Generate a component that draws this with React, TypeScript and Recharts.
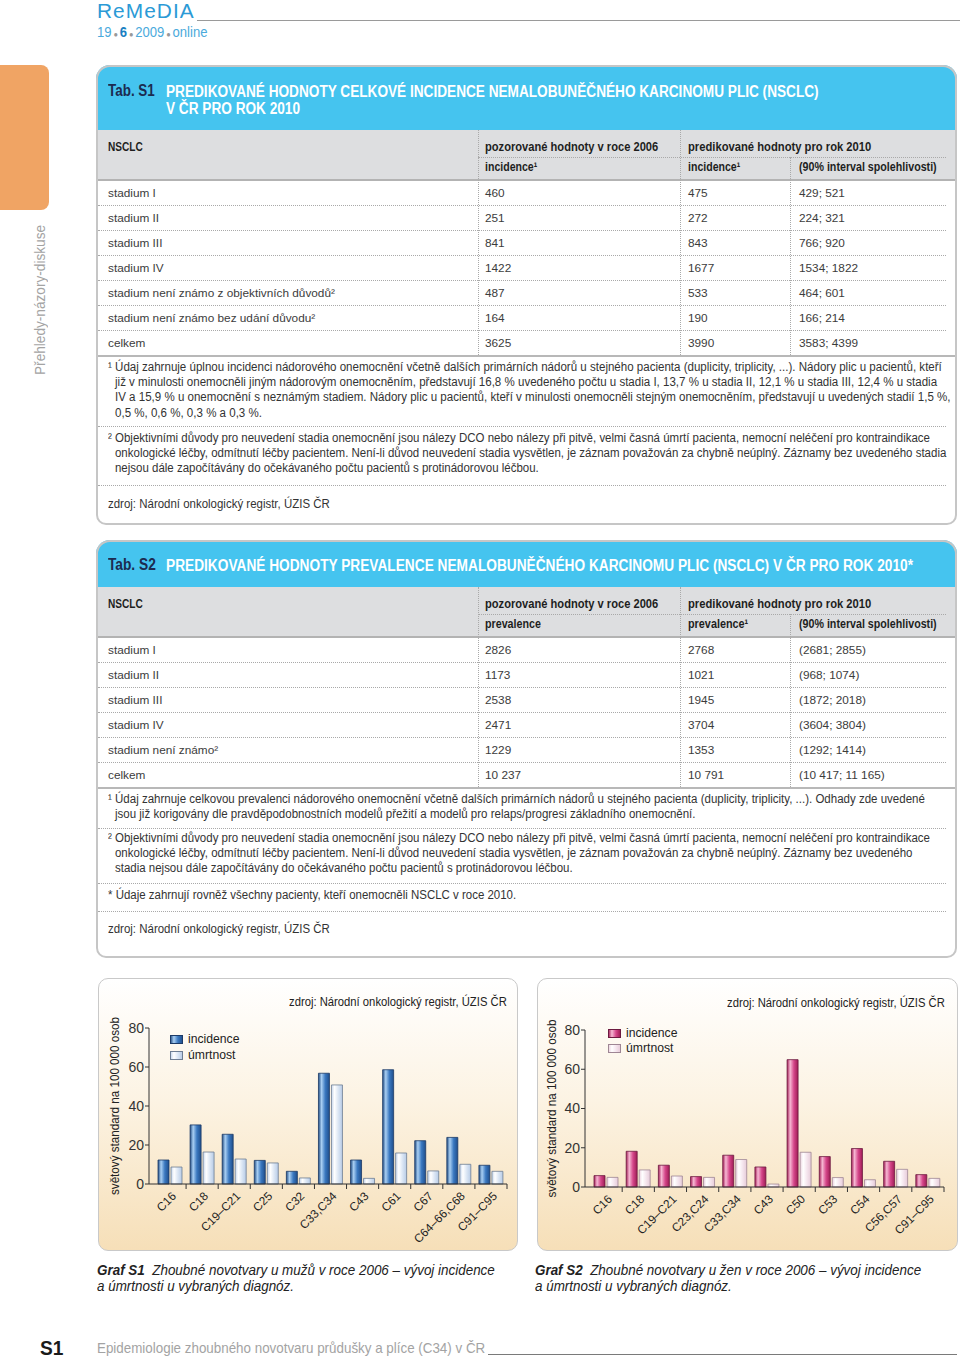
import React, { useLayoutEffect, useRef, useState } from 'react';
import { BarChart, Bar, XAxis, YAxis, Legend, Label } from 'recharts';

// Graf S1 – muži
const menCodes = ['C16', 'C18', 'C19–C21', 'C25', 'C32', 'C33,C34', 'C43', 'C61', 'C67', 'C64–66,C68', 'C91–C95'];
const menIncidence = [12.3, 30.3, 25.5, 12.1, 6.5, 56.8, 12.3, 58.6, 22.2, 23.9, 9.6];
const menMortality = [8.7, 16.4, 12.8, 10.8, 3.1, 50.8, 2.9, 15.9, 6.7, 10.1, 6.5];

// Graf S2 – ženy
const womenCodes = ['C16', 'C18', 'C19–C21', 'C23,C24', 'C33,C34', 'C43', 'C50', 'C53', 'C54', 'C56,C57', 'C91–C95'];
const womenIncidence = [5.8, 18.2, 11.1, 5.3, 16.2, 10.2, 64.9, 15.5, 19.6, 13.1, 6.3];
const womenMortality = [4.9, 8.7, 5.6, 4.9, 14.0, 1.5, 17.7, 4.8, 3.7, 9.0, 4.4];

const yTicks = [0, 20, 40, 60, 80];
const sourceText = 'zdroj: Národní onkologický registr, ÚZIS ČR';
const yLabelText = 'světový standard na 100 000 osob';

// Tab. S1
const s1Stages = ['stadium I', 'stadium II', 'stadium III', 'stadium IV', 'stadium není známo z objektivních důvodů²', 'stadium není známo bez udání důvodu²', 'celkem'];
const s1Observed = ['460', '251', '841', '1422', '487', '164', '3625'];
const s1Predicted = ['475', '272', '843', '1677', '533', '190', '3990'];
const s1Interval = ['429; 521', '224; 321', '766; 920', '1534; 1822', '464; 601', '166; 214', '3583; 4399'];
const s1Sub = ['incidence¹', 'incidence¹', '(90% interval spolehlivosti)'];

// Tab. S2
const s2Stages = ['stadium I', 'stadium II', 'stadium III', 'stadium IV', 'stadium není známo²', 'celkem'];
const s2Observed = ['2826', '1173', '2538', '2471', '1229', '10 237'];
const s2Predicted = ['2768', '1021', '1945', '3704', '1353', '10 791'];
const s2Interval = ['(2681; 2855)', '(968; 1074)', '(1872; 2018)', '(3604; 3804)', '(1292; 1414)', '(10 417; 11 165)'];
const s2Sub = ['prevalence', 'prevalence¹', '(90% interval spolehlivosti)'];

const s1Note1 = [
  '¹ Údaj zahrnuje úplnou incidenci nádorového onemocnění včetně dalších primárních nádorů u stejného pacienta (duplicity, triplicity, ...). Nádory plic u pacientů, kteří',
  'již v minulosti onemocněli jiným nádorovým onemocněním, představují 16,8 % uvedeného počtu u stadia I, 13,7 % u stadia II, 12,1 % u stadia III, 12,4 % u stadia',
  'IV a 15,9 % u onemocnění s neznámým stadiem. Nádory plic u pacientů, kteří v minulosti onemocněli stejným onemocněním, představují u uvedených stadií 1,5 %,',
  '0,5 %, 0,6 %, 0,3 % a 0,3 %.',
];
const s1Note2 = [
  '² Objektivními důvody pro neuvedení stadia onemocnění jsou nálezy DCO nebo nálezy při pitvě, velmi časná úmrtí pacienta, nemocní neléčení pro kontraindikace',
  'onkologické léčby, odmítnutí léčby pacientem. Není-li důvod neuvedení stadia vysvětlen, je záznam považován za chybně neúplný. Záznamy bez uvedeného stadia',
  'nejsou dále započítávány do očekávaného počtu pacientů s protinádorovou léčbou.',
];
const s2Note1 = [
  '¹ Údaj zahrnuje celkovou prevalenci nádorového onemocnění včetně dalších primárních nádorů u stejného pacienta (duplicity, triplicity, ...). Odhady zde uvedené',
  'jsou již korigovány dle pravděpodobnostních modelů přežití a modelů pro relaps/progresi základního onemocnění.',
];
const s2Note2 = [
  '² Objektivními důvody pro neuvedení stadia onemocnění jsou nálezy DCO nebo nálezy při pitvě, velmi časná úmrtí pacienta, nemocní neléčení pro kontraindikace',
  'onkologické léčby, odmítnutí léčby pacientem. Není-li důvod neuvedení stadia vysvětlen, je záznam považován za chybně neúplný. Záznamy bez uvedeného',
  'stadia nejsou dále započítávány do očekávaného počtu pacientů s protinádorovou léčbou.',
];

const BLUE = '#45c4ef';
const GREY_HEAD = '#dddee0';
const TEXT = '#3c3c3c';
const DOT = '1px dotted #a9a9a9';

// squeezes a single line of text to a given pixel width
function Fit({ w, children, style }: any) {
  const ref = useRef<HTMLSpanElement>(null);
  const [k, setK] = useState(1);
  useLayoutEffect(() => {
    const n = ref.current ? ref.current.offsetWidth : 0;
    if (n > 0) setK(w / n);
  }, [w]);
  return (
    <span ref={ref} style={{ display: 'inline-block', whiteSpace: 'nowrap', transform: `scaleX(${k})`, transformOrigin: '0 50%', ...style }}>
      {children}
    </span>
  );
}

// multi-line paragraph, scale taken from its first (full) line
function Para({ x, y, lines, w, lh = 15.4, size = 12.5, indent = 7, color = '#333', style }: any) {
  const ref = useRef<HTMLSpanElement>(null);
  const [k, setK] = useState(1);
  useLayoutEffect(() => {
    const n = ref.current ? ref.current.offsetWidth : 0;
    if (n > 0) setK(w / n);
  }, [w]);
  return (
    <div style={{ position: 'absolute', left: x, top: y, fontSize: size, lineHeight: `${lh}px`, color, whiteSpace: 'nowrap', transform: `scaleX(${k})`, transformOrigin: '0 0', ...style }}>
      {lines.map((t: any, i: number) => (
        <div key={i} style={{ paddingLeft: i ? indent / k : 0 }}>
          {i === 0 ? <span ref={ref}>{t}</span> : t}
        </div>
      ))}
    </div>
  );
}

const Txt = ({ x, cy, children, style }: any) => (
  <div style={{ position: 'absolute', left: x, top: cy - 10, height: 20, lineHeight: '20px', whiteSpace: 'nowrap', ...style }}>{children}</div>
);

const HLine = ({ x, y, w, border = DOT }: any) => (
  <div style={{ position: 'absolute', left: x, top: y, width: w, height: 0, borderTop: border }} />
);
const VLine = ({ x, y, h }: any) => (
  <div style={{ position: 'absolute', left: x, top: y, width: 0, height: h, borderLeft: DOT }} />
);

const headStyle = { fontSize: 13, fontWeight: 700, color: '#1e1e1e' };

function StageTable({ top, sub, subW, stages, observed, predicted, interval }: any) {
  const rowsTop = top + 50;
  const end = rowsTop + stages.length * 25;
  const cols = [108, 485, 688, 799];
  return (
    <>
      <div style={{ position: 'absolute', left: 97, top, width: 859, height: 50, background: GREY_HEAD }} />
      <HLine x={97} y={rowsTop - 1} w={859} border="2px solid #b3b3b3" />
      <VLine x={478} y={top} h={end - top} />
      <VLine x={680} y={top} h={end - top} />
      <VLine x={790} y={top + 27} h={end - top - 27} />
      <HLine x={478} y={top + 27} w={468} />
      {stages.slice(1).map((_: string, i: number) => (
        <HLine key={i} x={98} y={rowsTop + 25 * (i + 1)} w={848} />
      ))}
      <HLine x={97} y={end} w={859} border="2px solid #b8b8b8" />
      <Txt x={cols[0]} cy={top + 17} style={headStyle}><Fit w={35}>NSCLC</Fit></Txt>
      <Txt x={cols[1]} cy={top + 17} style={headStyle}><Fit w={173}>pozorované hodnoty v roce 2006</Fit></Txt>
      <Txt x={cols[2]} cy={top + 17} style={headStyle}><Fit w={183}>predikované hodnoty pro rok 2010</Fit></Txt>
      {sub.map((s: string, i: number) => (
        <Txt key={s + i} x={cols[i + 1]} cy={top + 37} style={headStyle}><Fit w={subW[i]}>{s}</Fit></Txt>
      ))}
      {stages.map((s: string, i: number) => {
        const cy = rowsTop + 12.5 + 25 * i;
        const st = { fontSize: 11.8, color: TEXT };
        return (
          <React.Fragment key={s}>
            <Txt x={cols[0]} cy={cy} style={st}>{s}</Txt>
            <Txt x={cols[1]} cy={cy} style={st}>{observed[i]}</Txt>
            <Txt x={cols[2]} cy={cy} style={st}>{predicted[i]}</Txt>
            <Txt x={cols[3]} cy={cy} style={st}>{interval[i]}</Txt>
          </React.Fragment>
        );
      })}
    </>
  );
}

const CodeTick = ({ x, y, payload }: any) => {
  const half = payload && payload.offset ? payload.offset : 16;
  return (
    <g>
      <line x1={x + half} x2={x + half} y1={y} y2={y + 5} stroke="#333" />
      <text
        x={x + 4}
        y={y + 10}
        transform={`rotate(-45 ${x + 4} ${y + 10})`}
        textAnchor="end"
        dominantBaseline="central"
        fontSize={11.8}
        fill="#222"
        fontFamily="Liberation Sans, Arial, sans-serif"
      >
        {payload.value}
      </text>
    </g>
  );
};

function IncidenceChart({ codes, incidence, mortality, ids, stops, strokes, width, margin, yWidth, xHeight, legend, labelX }: any) {
  const data = codes.map((c: string, i: number) => ({ code: c, incidence: incidence[i], mortality: mortality[i] }));
  const renderLabel = (p: any) => {
    const vb = p.viewBox || {};
    const cy = (vb.y ?? margin.top) + (vb.height ?? 156) / 2;
    return (
      <text
        x={labelX}
        y={cy}
        transform={`rotate(-90 ${labelX} ${cy})`}
        textAnchor="middle"
        dominantBaseline="central"
        fontSize={12}
        fill="#222"
        textLength={178}
        lengthAdjust="spacingAndGlyphs"
      >
        {yLabelText}
      </text>
    );
  };
  const renderLegend = (props: any) => (
    <div style={{ fontSize: 12.2, color: '#222', fontFamily: 'Liberation Sans, Arial, sans-serif' }}>
      {(props.payload || []).map((e: any, i: number) => (
        <div key={e.value} style={{ display: 'flex', alignItems: 'center', height: legend.rowH, lineHeight: `${legend.rowH}px` }}>
          <svg width={13} height={9} style={{ marginRight: 5 }}>
            <rect x={0.5} y={0.5} width={12} height={8} fill={`url(#${ids[i]})`} stroke={strokes[i]} strokeWidth={1} />
          </svg>
          {e.value}
        </div>
      ))}
    </div>
  );
  return (
    <BarChart width={width} height={273} data={data} margin={margin} barSize={11} barGap={2}>
      <defs>
        {ids.map((id: string, i: number) => (
          <linearGradient key={id} id={id} x1="0" y1="0" x2="1" y2="0">
            {stops[i].map((c: string, j: number) => (
              <stop key={j} offset={`${[0, 28, 62, 100][j]}%`} stopColor={c} />
            ))}
          </linearGradient>
        ))}
      </defs>
      <XAxis
        dataKey="code"
        height={xHeight}
        interval={0}
        padding={{ left: 5, right: 0 }}
        tickSize={0}
        tickMargin={0}
        tickLine={false}
        axisLine={{ stroke: '#333' }}
        tick={<CodeTick />}
      />
      <YAxis
        width={yWidth}
        domain={[0, 80]}
        ticks={yTicks}
        tickSize={4}
        tickMargin={1}
        axisLine={{ stroke: '#333' }}
        tickLine={{ stroke: '#333' }}
        tick={{ fontSize: 14, fill: '#333', fontFamily: 'Liberation Sans, Arial, sans-serif' }}
      >
        <Label content={renderLabel} />
      </YAxis>
      <Legend
        layout="vertical"
        verticalAlign="middle"
        align="center"
        wrapperStyle={{ top: legend.top, left: legend.left, width: 'auto' }}
        content={renderLegend}
      />
      <Bar dataKey="incidence" name="incidence" fill={`url(#${ids[0]})`} stroke={strokes[0]} strokeWidth={0.8} isAnimationActive={false} />
      <Bar dataKey="mortality" name="úmrtnost" fill={`url(#${ids[1]})`} stroke={strokes[1]} strokeWidth={0.8} isAnimationActive={false} />
    </BarChart>
  );
}

const chartPanel = {
  position: 'absolute' as const,
  top: 978,
  height: 273,
  border: '1.5px solid #c9c9c9',
  borderRadius: 10,
  background: 'linear-gradient(#ffffff 0%, #fcf3e3 45%, #f6dfb8 100%)',
  boxSizing: 'border-box' as const,
};

export default function App() {
  return (
    <div style={{ position: 'absolute', left: 0, top: 0, width: 960, height: 1360, background: '#fff', overflow: 'hidden', fontFamily: 'Liberation Sans, Arial, sans-serif', color: '#333' }}>
      {/* masthead */}
      <div style={{ position: 'absolute', left: 97, top: 0, height: 22, fontSize: 20, lineHeight: '22px', color: '#2b9ad6', letterSpacing: 1 }}>
        <Fit w={98}>ReMeDIA</Fit>
      </div>
      <HLine x={197} y={20} w={763} border="1px solid #9a9a9a" />
      <Txt x={97} cy={32} style={{ fontSize: 14, color: '#4aaadc' }}>
        <Fit w={110}>
          19<span style={{ fontSize: 8, color: '#999', margin: '0 2px' }}>●</span>
          <b style={{ color: '#1b7fc2' }}>6</b>
          <span style={{ fontSize: 8, color: '#999', margin: '0 2px' }}>●</span>2009
          <span style={{ fontSize: 8, color: '#999', margin: '0 2px' }}>●</span>online
        </Fit>
      </Txt>

      {/* side tab */}
      <div style={{ position: 'absolute', left: 0, top: 65, width: 49, height: 145, background: '#f0a464', borderRadius: '0 8px 8px 0' }} />
      <div style={{ position: 'absolute', left: 40 - 75, top: 300 - 9, width: 150, height: 18, lineHeight: '18px', transform: 'rotate(-90deg)', color: '#a3a3a3', fontSize: 14 }}>
        <Fit w={150}>Přehledy-názory-diskuse</Fit>
      </div>

      {/* Tab. S1 */}
      <div style={{ position: 'absolute', left: 96, top: 65, width: 861, height: 65, background: BLUE, borderRadius: '14px 14px 0 0' }} />
      <Txt x={108} cy={91} style={{ fontSize: 16, fontWeight: 700, color: '#1c2b50' }}><Fit w={47}>Tab. S1</Fit></Txt>
      <Para x={166} y={82.5} lh={17} size={16} indent={0} w={653} color="#fff" style={{ fontWeight: 700 }}
        lines={['PREDIKOVANÉ HODNOTY CELKOVÉ INCIDENCE NEMALOBUNĚČNÉHO KARCINOMU PLIC (NSCLC)', 'V ČR PRO ROK 2010']} />
      <StageTable top={130} sub={s1Sub} subW={[52, 52, 138]} stages={s1Stages} observed={s1Observed} predicted={s1Predicted} interval={s1Interval} />
      <Para x={108} y={359.5} lines={s1Note1} w={834} />
      <HLine x={98} y={426} w={848} />
      <Para x={108} y={430.5} lines={s1Note2} w={822} />
      <HLine x={98} y={485} w={848} />
      <Para x={108} y={496.5} lines={[sourceText]} w={222} />
      <div style={{ position: 'absolute', left: 96, top: 65, width: 861, height: 460, border: '2px solid #c6c6c6', borderRadius: '14px 14px 10px 10px', boxSizing: 'border-box' }} />

      {/* Tab. S2 */}
      <div style={{ position: 'absolute', left: 96, top: 540, width: 861, height: 47, background: BLUE, borderRadius: '14px 14px 0 0' }} />
      <Txt x={108} cy={565} style={{ fontSize: 16, fontWeight: 700, color: '#1c2b50' }}><Fit w={48}>Tab. S2</Fit></Txt>
      <Para x={166} y={556.5} lh={17} size={16} indent={0} w={747} color="#fff" style={{ fontWeight: 700 }}
        lines={['PREDIKOVANÉ HODNOTY PREVALENCE NEMALOBUNĚČNÉHO KARCINOMU PLIC (NSCLC) V ČR PRO ROK 2010*']} />
      <StageTable top={587} sub={s2Sub} subW={[56, 60, 138]} stages={s2Stages} observed={s2Observed} predicted={s2Predicted} interval={s2Interval} />
      <Para x={108} y={791.5} lines={s2Note1} w={817} />
      <HLine x={98} y={828} w={848} />
      <Para x={108} y={830.5} lines={s2Note2} w={822} />
      <HLine x={98} y={883} w={848} />
      <Para x={108} y={887.5} lines={['* Údaje zahrnují rovněž všechny pacienty, kteří onemocněli NSCLC v roce 2010.']} w={408} />
      <HLine x={98} y={911} w={848} />
      <Para x={108} y={921.5} lines={[sourceText]} w={222} />
      <div style={{ position: 'absolute', left: 96, top: 540, width: 861, height: 418, border: '2px solid #c6c6c6', borderRadius: '14px 14px 10px 10px', boxSizing: 'border-box' }} />

      {/* Graf S1 */}
      <div style={{ ...chartPanel, left: 98, width: 420 }} />
      <div style={{ position: 'absolute', left: 98, top: 978 }}>
        <IncidenceChart
          codes={menCodes}
          incidence={menIncidence}
          mortality={menMortality}
          ids={['menInc', 'menMort']}
          stops={[
            ['#214d85', '#a9cff3', '#3a78c0', '#1f4e8c'],
            ['#c4d5ec', '#ffffff', '#dbe6f4', '#b7cbe6'],
          ]}
          strokes={['#1c3a66', '#6d7d93']}
          width={420}
          margin={{ top: 50, right: 11, left: 0, bottom: 0 }}
          yWidth={51}
          xHeight={67}
          legend={{ top: 53, left: 72, rowH: 16 }}
          labelX={17}
        />
      </div>
      <Txt x={289} cy={1002} style={{ fontSize: 12.5, color: '#222' }}><Fit w={218}>{sourceText}</Fit></Txt>

      {/* Graf S2 */}
      <div style={{ ...chartPanel, left: 537, width: 421 }} />
      <div style={{ position: 'absolute', left: 537, top: 978 }}>
        <IncidenceChart
          codes={womenCodes}
          incidence={womenIncidence}
          mortality={womenMortality}
          ids={['womenInc', 'womenMort']}
          stops={[
            ['#a31d57', '#f6b8d3', '#d5468a', '#9e1c55'],
            ['#ebd1de', '#ffffff', '#f5e6ee', '#e6cbd9'],
          ]}
          strokes={['#6c1a40', '#9e8694']}
          width={421}
          margin={{ top: 52, right: 14, left: 0, bottom: 0 }}
          yWidth={48}
          xHeight={64}
          legend={{ top: 47.5, left: 71, rowH: 15 }}
          labelX={15}
        />
      </div>
      <Txt x={727} cy={1003} style={{ fontSize: 12.5, color: '#222' }}><Fit w={218}>{sourceText}</Fit></Txt>

      {/* captions */}
      <Para x={97} y={1262} lh={16} size={14} indent={0} w={398} color="#222" style={{ fontStyle: 'italic' }}
        lines={[<><b>Graf S1</b>&nbsp; Zhoubné novotvary u mužů v roce 2006 – vývoj incidence</>, 'a úmrtnosti u vybraných diagnóz.']} />
      <Para x={535} y={1262} lh={16} size={14} indent={0} w={386} color="#222" style={{ fontStyle: 'italic' }}
        lines={[<><b>Graf S2</b>&nbsp; Zhoubné novotvary u žen v roce 2006 – vývoj incidence</>, 'a úmrtnosti u vybraných diagnóz.']} />

      {/* footer */}
      <Txt x={40} cy={1348} style={{ fontSize: 20, fontWeight: 700, color: '#1a1a1a' }}><Fit w={23}>S1</Fit></Txt>
      <Txt x={97} cy={1348} style={{ fontSize: 15, color: '#a3a3a3' }}><Fit w={388}>Epidemiologie zhoubného novotvaru průdušky a plíce (C34) v ČR</Fit></Txt>
      <HLine x={488} y={1354} w={469} border="1px solid #7a7a7a" />
    </div>
  );
}
